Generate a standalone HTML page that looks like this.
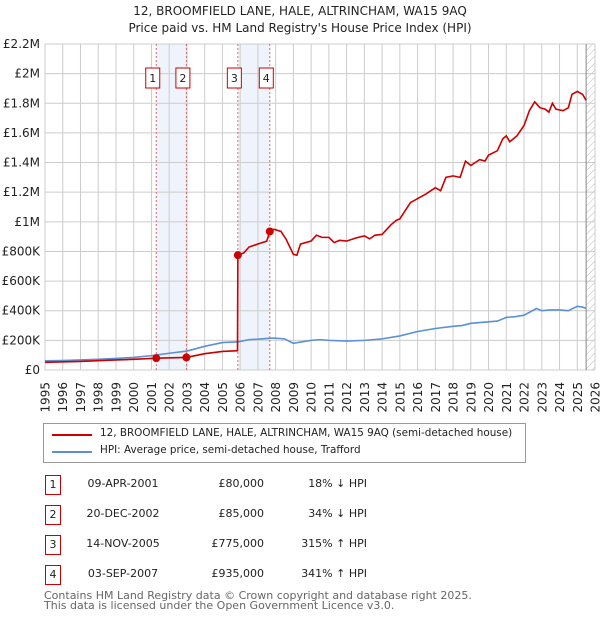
<!DOCTYPE html>
<html><head><meta charset="utf-8"><style>
body{margin:0;background:#fff;font-family:"DejaVu Sans","Liberation Sans",sans-serif;}
#wrap{position:relative;width:600px;height:620px;overflow:hidden}
.t{position:absolute;font-size:11px;color:#222;white-space:nowrap}
.box{position:absolute;border:1px solid #cc0000;width:14px;height:18px;font-size:11px;text-align:center;line-height:18px;color:#222}
</style></head><body><div id="wrap">
<svg id="chart" width="600" height="420" style="position:absolute;left:0;top:0;font-family:'DejaVu Sans',sans-serif"></svg>
<div style="position:absolute;left:43px;top:423px;width:481px;height:38px;border:1px solid #999">
<div style="position:absolute;left:8px;top:4px;width:40px;height:2px;background:#cc0000;margin-top:6px"></div>
<div class="t" style="left:56px;top:3px;font-size:10.4px">12, BROOMFIELD LANE, HALE, ALTRINCHAM, WA15 9AQ (semi-detached house)</div>
<div style="position:absolute;left:8px;top:21px;width:40px;height:2px;background:#5b8fd6;margin-top:6px"></div>
<div class="t" style="left:56px;top:20px;font-size:10.4px">HPI: Average price, semi-detached house, Trafford</div>
</div>
<div id="tbl"></div>
<div class="t" style="left:44px;top:591px;font-size:11px;color:#666;line-height:10px">Contains HM Land Registry data © Crown copyright and database right 2025.<br>This data is licensed under the Open Government Licence v3.0.</div>
</div>
<script>
const hpiYears=[1995,1996,1997,1998,1999,2000,2001,2002,2003,2004,2005,2005.9,2006.5,2007,2007.7,2008,2008.5,2009,2009.5,2010,2010.5,2011,2012,2013,2014,2015,2016,2017,2018,2018.5,2019,2020,2020.5,2021,2021.5,2022,2022.7,2023,2023.5,2024,2024.5,2025,2025.3,2025.5];
const hpiValues=[62,64,68,72,78,85,97,113,128,160,185,190,205,208,215,215,210,180,190,200,205,200,195,200,210,230,260,280,295,300,315,325,330,355,360,370,415,400,405,405,400,430,425,415];
const redYears=[1995,1997,1999,2000,2001.27,2002.97,2004,2005,2005.85,2005.87,2006.2,2006.5,2007,2007.5,2007.67,2007.9,2008.3,2008.6,2009,2009.2,2009.4,2010,2010.3,2010.6,2011,2011.3,2011.6,2012,2012.5,2013,2013.3,2013.6,2014,2014.5,2014.8,2015,2015.6,2016.5,2017,2017.3,2017.6,2018,2018.4,2018.7,2019,2019.5,2019.8,2020,2020.5,2020.8,2021,2021.2,2021.6,2022,2022.3,2022.6,2022.9,2023.2,2023.4,2023.6,2023.8,2024.2,2024.5,2024.7,2025,2025.3,2025.5];
const redValues=[52,58,68,72,80,85,110,125,130,775,790,830,850,870,935,950,935,880,780,775,850,870,910,895,895,860,875,870,890,905,885,910,915,980,1010,1020,1130,1190,1230,1210,1300,1310,1300,1410,1380,1420,1410,1450,1480,1560,1580,1540,1580,1650,1750,1810,1770,1760,1740,1800,1760,1750,1770,1860,1880,1860,1820];
const saleYears=[2001.27,2002.97,2005.87,2007.67];
const saleValues=[80,85,775,935];
const saleLabels=["1","2","3","4"];
const saleDates=["09-APR-2001","20-DEC-2002","14-NOV-2005","03-SEP-2007"];
const salePrices=["£80,000","£85,000","£775,000","£935,000"];
const saleHpi=["18% ↓ HPI","34% ↓ HPI","315% ↑ HPI","341% ↑ HPI"];
const yTicks=[0,200,400,600,800,1000,1200,1400,1600,1800,2000,2200];
const yTickLabels=["£0","£200K","£400K","£600K","£800K","£1M","£1.2M","£1.4M","£1.6M","£1.8M","£2M","£2.2M"];
const xTicks=[1995,1996,1997,1998,1999,2000,2001,2002,2003,2004,2005,2006,2007,2008,2009,2010,2011,2012,2013,2014,2015,2016,2017,2018,2019,2020,2021,2022,2023,2024,2025,2026];

const NS="http://www.w3.org/2000/svg";
const svg=document.getElementById('chart');
const X0=45,X1=595,Y0=370,YT=44;
const xs=y=>X0+(y-1995)*(X1-X0)/31;
const ys=v=>Y0-v*(Y0-YT)/2200;
function mk(t,a){const e=document.createElementNS(NS,t);for(const k in a)e.setAttribute(k,a[k]);svg.appendChild(e);return e;}
let tt=mk('text',{x:300,y:15,'text-anchor':'middle','font-size':12,fill:'#222'});tt.textContent="12, BROOMFIELD LANE, HALE, ALTRINCHAM, WA15 9AQ";

let st=mk('text',{x:300,y:32,'text-anchor':'middle','font-size':12,fill:'#222'});st.textContent="Price paid vs. HM Land Registry's House Price Index (HPI)";

for(let i=0;i<4;i+=2){const r=mk('rect',{x:xs(saleYears[i]),y:YT,width:xs(saleYears[i+1])-xs(saleYears[i]),height:Y0-YT,fill:'#eef3fc'});
}
const defs=mk('defs',{});defs.innerHTML='<pattern id="h" width="5" height="5" patternUnits="userSpaceOnUse" patternTransform="rotate(45)"><line x1="0" y1="0" x2="0" y2="5" stroke="#bbb" stroke-width="1"/></pattern>';
const hr=mk('rect',{x:xs(2025.5),y:YT,width:X1-xs(2025.5),height:Y0-YT,fill:'url(#h)'});

xTicks.forEach(y=>{const l=mk('line',{x1:xs(y),x2:xs(y),y1:YT,y2:Y0,stroke:'#ccc'});
const t=mk('text',{x:0,y:0,'text-anchor':'end','font-size':12,fill:'#222',transform:'translate('+(xs(y)+4.5)+',382) rotate(-90)'});t.textContent=y;});
yTicks.forEach((v,i)=>{const l=mk('line',{x1:X0,x2:X1,y1:ys(v),y2:ys(v),stroke:'#ccc'});
const t=mk('text',{x:40,y:ys(v)+4,'text-anchor':'end','font-size':12,fill:'#222'});t.textContent=yTickLabels[i];});
mk('line',{x1:xs(2025.5),x2:xs(2025.5),y1:YT,y2:Y0,stroke:'#888'});
saleYears.forEach(y=>{const l=mk('line',{x1:xs(y),x2:xs(y),y1:YT,y2:Y0,stroke:'#e06666','stroke-dasharray':'2,2'});});
const hp=mk('polyline',{points:hpiYears.map((y,i)=>xs(y)+','+ys(hpiValues[i])).join(' '),fill:'none',stroke:'#5b8fd6','stroke-width':1.6});

const rp=mk('polyline',{points:redYears.map((y,i)=>xs(y)+','+ys(redValues[i])).join(' '),fill:'none',stroke:'#cc0000','stroke-width':1.6});

saleYears.forEach((y,i)=>{const c=mk('circle',{cx:xs(y),cy:ys(saleValues[i]),r:4,fill:'#cc0000'});
const g=mk('rect',{x:xs(y)-10.5,y:68,width:14,height:20,fill:'#fff',stroke:'#cc0000'});

const t=mk('text',{x:xs(y)-3.5,y:82,'text-anchor':'middle','font-size':11,fill:'#222'});t.textContent=saleLabels[i];});
const tb=document.getElementById('tbl');
saleLabels.forEach((s,i)=>{const top=475+i*30;
const b=document.createElement('div');b.className='box';b.style.left='45px';b.style.top=top+'px';b.textContent=s;
tb.appendChild(b);
[[saleDates[i],63,'center',120],[salePrices[i],164,'right',100],[saleHpi[i],267,'right',100]].forEach(([txt,l,al,w])=>{
const d=document.createElement('div');d.className='t';d.style.left=l+'px';d.style.top=(top+2)+'px';d.style.width=w+'px';d.style.textAlign=al;d.textContent=txt;
tb.appendChild(d);});});
</script></body></html>
